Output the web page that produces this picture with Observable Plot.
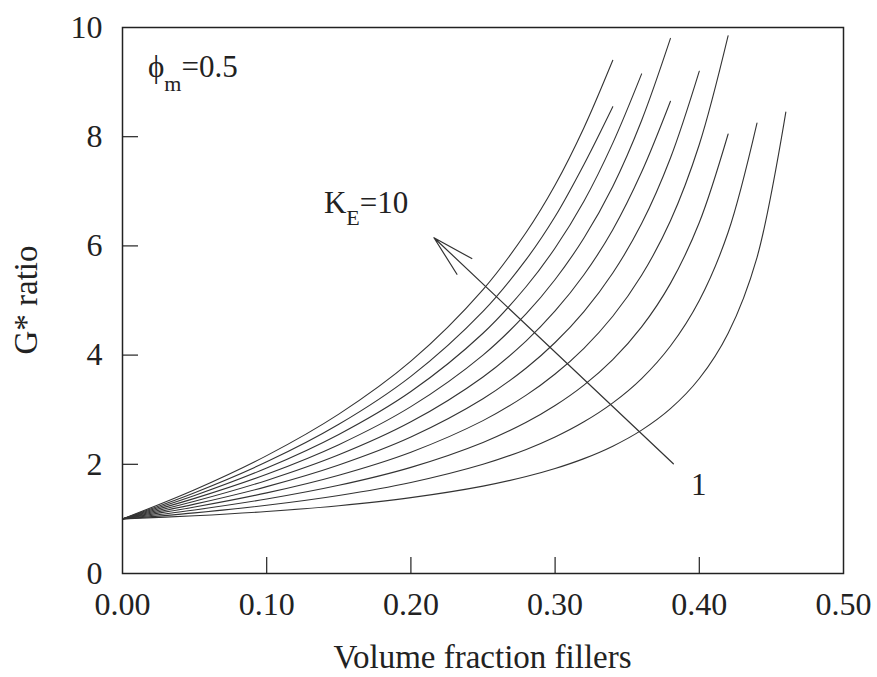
<!DOCTYPE html>
<html><head><meta charset="utf-8">
<script src="https://cdn.jsdelivr.net/npm/d3@7"></script>
<script src="https://cdn.jsdelivr.net/npm/@observablehq/plot@0.6"></script>
<style>
body{margin:0;background:#fff;}
#chart svg{display:block;}
</style>
</head><body><div id="chart"></div>
<script>
// Volume fraction of fillers (x) grid used to read the curves
const xGrid = [0, 0.05, 0.10, 0.15, 0.20, 0.25, 0.28, 0.30, 0.32, 0.34, 0.36, 0.38, 0.40, 0.42, 0.44, 0.46];
// G* ratio values read for each K_E curve (K_E = 1 ... 10)
const kE1  = [1, 1.058, 1.136, 1.242, 1.389, 1.600, 1.776, 1.923, 2.104, 2.332, 2.626, 3.019, 3.571, 4.401, 5.787, 8.45];
const kE2  = [1, 1.111, 1.250, 1.429, 1.667, 2.000, 2.273, 2.500, 2.778, 3.125, 3.571, 4.167, 5.000, 6.250, 8.25];
const kE3  = [1, 1.164, 1.364, 1.615, 1.944, 2.400, 2.770, 3.077, 3.451, 3.918, 4.517, 5.314, 6.429, 8.05];
const kE4  = [1, 1.217, 1.477, 1.801, 2.222, 2.800, 3.267, 3.654, 4.125, 4.711, 5.462, 6.461, 7.857, 9.85];
const kE5  = [1, 1.270, 1.591, 1.988, 2.500, 3.200, 3.764, 4.231, 4.798, 5.504, 6.408, 7.609, 9.20];
const kE6  = [1, 1.323, 1.705, 2.174, 2.778, 3.600, 4.261, 4.808, 5.471, 6.297, 7.353, 8.65];
const kE7  = [1, 1.376, 1.818, 2.360, 3.056, 4.000, 4.759, 5.385, 6.145, 7.090, 8.298, 9.80];
const kE8  = [1, 1.429, 1.932, 2.547, 3.333, 4.400, 5.256, 5.962, 6.818, 7.882, 9.15];
const kE9  = [1, 1.481, 2.045, 2.733, 3.611, 4.800, 5.753, 6.538, 7.492, 8.55];
const kE10 = [1, 1.534, 2.159, 2.919, 3.889, 5.200, 6.250, 7.115, 8.165, 9.40];
const series = [kE1, kE2, kE3, kE4, kE5, kE6, kE7, kE8, kE9, kE10];
const kLabels = [1, 2, 3, 4, 5, 6, 7, 8, 9, 10];

const xTickValues = [0, 0.1, 0.2, 0.3, 0.4, 0.5];
const yTickValues = [0, 2, 4, 6, 8, 10];
const xInnerTicks = [0.1, 0.2, 0.3, 0.4];
const yInnerTicks = [2, 4, 6, 8];

// arrow annotation (data coordinates)
const arrowX1 = [0.382], arrowY1 = [2.01], arrowX2 = [0.216], arrowY2 = [6.15];

const rows = [];
series.forEach((vals, i) => vals.forEach((v, j) => rows.push({k: kLabels[i], x: xGrid[j], y: v})));

const W = 877, H = 677, mL = 122, mR = 34, mT = 27, mB = 104;
const innerW = W - mL - mR, innerH = H - mT - mB;
const FONT = "'Liberation Serif', 'Times New Roman', serif";

const plot = Plot.plot({
  width: W, height: H,
  marginLeft: mL, marginRight: mR, marginTop: mT, marginBottom: mB,
  style: {fontFamily: FONT, fontSize: "32px", color: "#222", background: "#fff"},
  x: {domain: [0, 0.5]},
  y: {domain: [0, 10]},
  marks: [
    Plot.line(rows, {x: "x", y: "y", z: "k", stroke: "#333", strokeWidth: 1.1, curve: "catmull-rom"}),
    Plot.tickX(xInnerTicks, {x: d => d, insetTop: innerH - 16, stroke: "#222", strokeWidth: 1.2}),
    Plot.tickY(yInnerTicks, {y: d => d, insetRight: innerW - 16, stroke: "#222", strokeWidth: 1.2}),
    Plot.axisX(xTickValues, {tickSize: 0, tickPadding: 19, tickFormat: d3.format(".2f"), fontSize: 32, label: null, fill: "#222"}),
    Plot.axisY(yTickValues, {tickSize: 0, tickPadding: 20, tickFormat: d3.format("d"), fontSize: 32, label: null, fill: "#222"}),
    Plot.arrow([0], {x1: () => arrowX1[0], y1: () => arrowY1[0], x2: () => arrowX2[0], y2: () => arrowY2[0],
      stroke: "#333", strokeWidth: 1.2, headLength: 54, headAngle: 29}),
    Plot.frame({stroke: "#222", strokeWidth: 1.5})
  ]
});

document.getElementById("chart").appendChild(plot);

const svg = d3.select(plot.tagName.toLowerCase() === "svg" ? plot : plot.querySelector("svg"));
const sx = plot.scale("x"), sy = plot.scale("y");
const g = svg.append("g").attr("font-family", FONT).attr("fill", "#222").attr("text-anchor", "start");

// axis titles
g.append("text").attr("x", mL + innerW / 2).attr("y", 668).attr("text-anchor", "middle")
  .attr("font-size", 33).text("Volume fraction fillers");
g.append("text").attr("transform", `translate(37,${mT + innerH / 2}) rotate(-90)`).attr("text-anchor", "middle")
  .attr("font-size", 33).text("G* ratio");

// phi_m = 0.5
const t1 = g.append("text").attr("x", sx.apply(0.018)).attr("y", sy.apply(9.08)).attr("font-size", 31).attr("text-anchor", "start");
t1.append("tspan").text("\u03d5");
t1.append("tspan").attr("font-size", 22).attr("dy", 14).text("m");
t1.append("tspan").attr("dy", -14).text("=0.5");

// K_E = 10
const t2 = g.append("text").attr("x", sx.apply(0.14)).attr("y", sy.apply(6.6)).attr("font-size", 31).attr("text-anchor", "start");
t2.append("tspan").text("K");
t2.append("tspan").attr("font-size", 22).attr("dy", 12).text("E");
t2.append("tspan").attr("dy", -12).text("=10");

// 1
g.append("text").attr("x", sx.apply(0.4)).attr("y", sy.apply(1.42)).attr("text-anchor", "middle")
  .attr("font-size", 31).text("1");
</script>
</body></html>
